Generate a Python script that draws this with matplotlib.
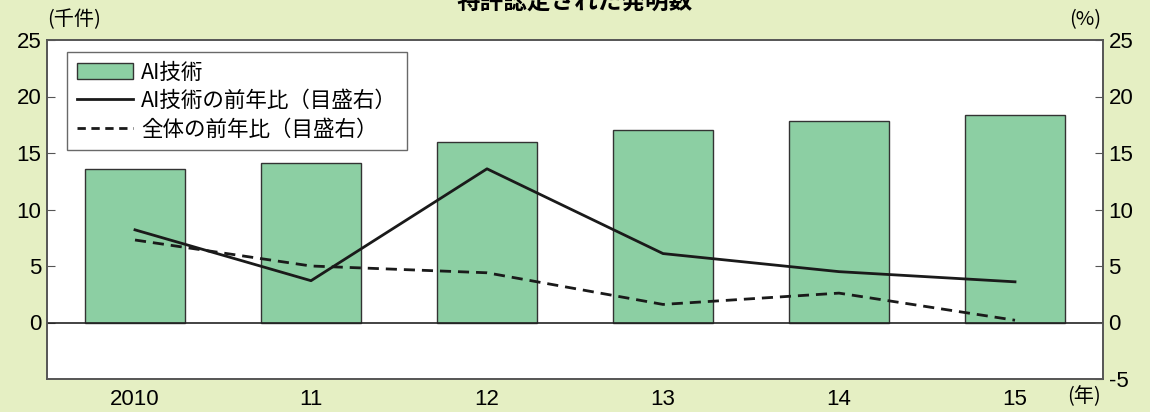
import matplotlib
matplotlib.use('Agg')
import matplotlib.pyplot as plt
from matplotlib.patches import Patch
from matplotlib.lines import Line2D

plt.rcParams['font.family'] = ['Noto Sans CJK JP', 'DejaVu Sans']

# データ
years = ['2010', '11', '12', '13', '14', '15']
ai_patents = [13.6, 14.1, 16.0, 17.05, 17.8, 18.4]      # 千件
ai_yoy = [8.2, 3.7, 13.6, 6.1, 4.5, 3.6]                # %
total_yoy = [7.3, 5.0, 4.4, 1.6, 2.6, 0.2]              # %

bg = '#e5efc3'
bar_col = '#8ccfa3'
spine_col = '#555555'
num_font = ['Liberation Sans', 'DejaVu Sans']

fig = plt.figure(figsize=(11.5, 4.12), dpi=100, facecolor=bg)
ax = fig.add_axes([47/1150, 1 - 379/412, (1103 - 47)/1150, (379 - 40)/412])
ax2 = ax.twinx()

x = list(range(len(years)))
ax.bar(x, ai_patents, width=0.57, color=bar_col, edgecolor='#333333', linewidth=1.0, zorder=2)
ax.axhline(0, color='#222222', linewidth=1.2, zorder=3)
ax.set_xlim(-0.5, 5.5)
ax.set_ylim(-5, 25)
ax.set_yticks([0, 5, 10, 15, 20, 25])
ax.set_xticks(x)
ax.set_xticklabels(years)

ax2.plot(x, ai_yoy, color='#1a1a1a', linewidth=2.0, zorder=4)
ax2.plot(x, total_yoy, color='#1a1a1a', linewidth=2.0, linestyle=(0, (4, 2.5)), zorder=4)
ax2.set_ylim(-5, 25)
ax2.set_yticks([-5, 0, 5, 10, 15, 20, 25])
ax2.set_yticklabels(['-5', '0', '5', '10', '15', '20', '25'])

for a in (ax, ax2):
    for s in a.spines.values():
        s.set_color(spine_col)
        s.set_linewidth(1.2)
    a.tick_params(axis='y', direction='in', length=6, color=spine_col, labelsize=16, pad=4)
    for lab in a.get_yticklabels():
        lab.set_family(num_font)
ax.tick_params(axis='x', length=0, labelsize=16, pad=7)
for lab in ax.get_xticklabels():
    lab.set_family(num_font)

# 凡例
handles = [Patch(facecolor=bar_col, edgecolor='#333333', linewidth=1.0),
           Line2D([0], [0], color='#1a1a1a', linewidth=2.0),
           Line2D([0], [0], color='#1a1a1a', linewidth=2.0, linestyle=(0, (3, 2)))]
labels = ['AI技術', 'AI技術の前年比（目盛右）', '全体の前年比（目盛右）']
leg = ax2.legend(handles, labels, loc='upper left', bbox_to_anchor=(20/1056, 1 - 12/339),
                 fontsize=15.5, frameon=True, fancybox=False, edgecolor='#444444',
                 handlelength=2.6, handleheight=0.75, handletextpad=0.4,
                 labelspacing=0.3, borderpad=0.45, borderaxespad=0)
leg.get_frame().set_linewidth(1.0)

# 単位ラベル
fig.text(47/1150, 1 - 20/412, '(千件)', fontsize=14.5, ha='left', va='center')
fig.text(1101/1150, 1 - 20/412, '(%)', fontsize=14.5, ha='right', va='center')
fig.text(1101/1150, 1 - 397/412, '(年)', fontsize=14.5, ha='right', va='center')

# タイトル（上端で切れている）
fig.text(0.5, 1 - 2/412, '特許認定された発明数', fontsize=17, fontweight='bold',
         ha='center', va='center')

fig.savefig('out.png', dpi=100, facecolor=bg)
